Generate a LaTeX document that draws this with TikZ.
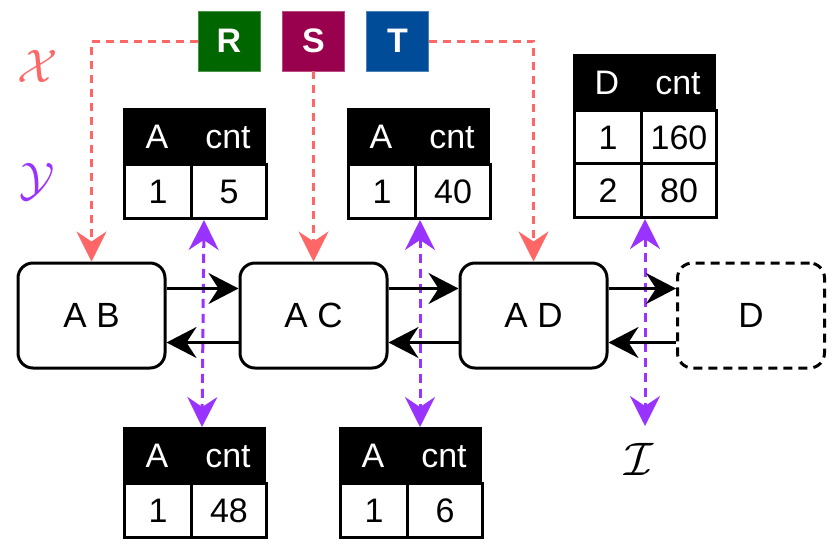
\documentclass[tikz,border=0pt]{standalone}
\usepackage{fontspec}
\setmainfont{Liberation Sans}
\usetikzlibrary{arrows.meta,calc}
\definecolor{rdash}{HTML}{FF6666}
\definecolor{pdash}{HTML}{9933FF}
\definecolor{rfill}{HTML}{006600}
\definecolor{sfill}{HTML}{99004D}
\definecolor{tfill}{HTML}{004C99}
\begin{document}
\begin{tikzpicture}[x=1pt,y=-1pt,
  opnode/.style={draw=black, line width=3pt, rounded corners=15pt, minimum width=147pt, minimum height=105pt, inner sep=0pt, font=\fontsize{35}{40}\selectfont},
  ghost/.style={opnode, dash pattern=on 9pt off 6pt},
  relbox/.style={minimum width=62pt, minimum height=60pt, inner sep=0pt, text=white, font=\fontsize{34}{40}\selectfont\bfseries},
  hdr/.style={fill=black, draw=black, line width=1pt, text=white, anchor=north west, inner sep=0pt, minimum height=55pt, text height=24pt, text depth=0pt, font=\fontsize{34}{40}\selectfont},
  cell/.style={fill=white, draw=black, line width=3pt, anchor=north west, inner sep=0pt, minimum height=54pt, text height=24pt, text depth=0pt, font=\fontsize{34}{40}\selectfont},
  ca/.style={minimum width=67pt},
  cb/.style={minimum width=75pt},
  edge/.style={draw=black, line width=2.5pt, -{Stealth[length=30pt,width=31pt,inset=10pt]}},
  rarr/.style={draw=rdash, line width=3pt, dash pattern=on 8pt off 6pt, -{Stealth[length=30pt,width=30pt,inset=10pt]}},
  parr/.style={draw=pdash, line width=3pt, dash pattern=on 9pt off 6pt, {Stealth[length=30pt,width=30pt,inset=10pt]}-{Stealth[length=30pt,width=30pt,inset=10pt]}},
  mlabel/.style={inner sep=0pt, scale=4.7},
]
\useasboundingbox (0,0) rectangle (832,558);

% relation boxes
\node[relbox, fill=rfill, draw=rfill!70!white, line width=0.5pt] (R) at (229,41) {R};
\node[relbox, fill=sfill, draw=sfill!70!white, line width=0.5pt] (S) at (313.5,41) {S};
\node[relbox, fill=tfill, draw=tfill!70!white, line width=0.5pt] (T) at (397.5,41) {T};

% labels
\node[mlabel, text=rdash] (LX) at (38,66) {$\mathcal{X}$};
\node[mlabel, text=pdash] (LY) at (37,182) {$\mathcal{Y}$};
\node[mlabel, text=black] (I) at (639,459) {$\mathcal{I}$};
\coordinate (Iend) at ([yshift=16pt]I.north);

% operator nodes
\node[opnode] (AB) at (91.5,315.5) {A B};
\node[opnode] (AC) at (313.5,315.5) {A C};
\node[opnode] (AD) at (533.5,315.5) {A D};
\node[ghost] (D) at (751,315.5) {D};

% table T1
\node[hdr, ca] (T1ha) at (123,108) {A};
\node[hdr, cb] (T1hb) at (190,108) {cnt};
\node[cell, ca] (T1a) at (123,163) {1};
\node[cell, cb] (T1b) at (190,163) {5};
% table T2
\node[hdr, ca] (T2ha) at (347,108) {A};
\node[hdr, cb] (T2hb) at (414,108) {cnt};
\node[cell, ca] (T2a) at (347,163) {1};
\node[cell, cb] (T2b) at (414,163) {40};
% table T3
\node[hdr, ca] (T3ha) at (573,54) {D};
\node[hdr, cb] (T3hb) at (640,54) {cnt};
\node[cell, ca] (T3a) at (573,109) {1};
\node[cell, cb] (T3b) at (640,109) {160};
\node[cell, ca] (T3c) at (573,162) {2};
\node[cell, cb] (T3d) at (640,162) {80};
% table B1
\node[hdr, ca] (B1ha) at (123,427) {A};
\node[hdr, cb] (B1hb) at (190,427) {cnt};
\node[cell, ca] (B1a) at (123,482) {1};
\node[cell, cb] (B1b) at (190,482) {48};
% table B2
\node[hdr, ca] (B2ha) at (339,427) {A};
\node[hdr, cb] (B2hb) at (406,427) {cnt};
\node[cell, ca] (B2a) at (339,482) {1};
\node[cell, cb] (B2b) at (406,482) {6};

% purple dashed double arrows
\draw[parr] ([xshift=11pt]T1a.south east) -- ([xshift=11pt]B1ha.north east);
\draw[parr] ([xshift=3pt]T2a.south east) -- ([xshift=3pt]T2a.south east |- B2ha.north);
\draw[parr] ([xshift=2pt]T3c.south east) -- ([xshift=2pt]T3c.south east |- Iend);

% red dashed arrows
\draw[rarr] (R.west) -| (AB.north);
\draw[rarr] (S.south) -- (AC.north);
\draw[rarr] (T.east) -| (AD.north);

% black edges
\draw[edge] ([yshift=27pt]AB.east) -- ([yshift=27pt]AC.west);
\draw[edge] ([yshift=-27pt]AC.west) -- ([yshift=-27pt]AB.east);
\draw[edge] ([yshift=27pt]AC.east) -- ([yshift=27pt]AD.west);
\draw[edge] ([yshift=-27pt]AD.west) -- ([yshift=-27pt]AC.east);
\draw[edge] ([yshift=27pt]AD.east) -- ([yshift=27pt]D.west);
\draw[edge] ([yshift=-27pt]D.west) -- ([yshift=-27pt]AD.east);
\end{tikzpicture}
\end{document}
